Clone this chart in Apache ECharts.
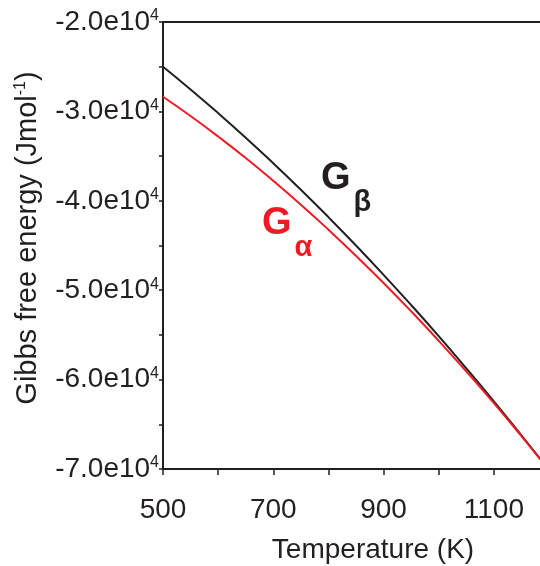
<!DOCTYPE html>
<html>
<head>
<meta charset="utf-8">
<script src="https://cdn.jsdelivr.net/npm/echarts@6/dist/echarts.min.js"></script>
<style>
html,body{margin:0;padding:0;background:#fff;}
#c{width:540px;height:566px;}
</style>
</head>
<body>
<div id="c"></div>
<script>
// Data
var temperatures = [500, 550, 600, 650, 700, 750, 800, 850, 900, 950, 1000, 1050, 1100, 1150, 1200];
var gBeta  = [-25000, -27540, -30190, -32940, -35800, -38760, -41830, -45000, -48280, -51660, -55140, -58740, -62430, -66240, -70100];
var gAlpha = [-28360, -30520, -32810, -35220, -37770, -40430, -43230, -46150, -49190, -52360, -55660, -59080, -62630, -66310, -70120];
var xTickLabels = [500, 700, 900, 1100];
var yTickLabels = [-20000, -30000, -40000, -50000, -60000, -70000];

var INK = '#231f20';
var RED = '#ed1c24';
var FONT = '"Liberation Sans", Arial, Helvetica, sans-serif';

function pairs(xs, ys) { return xs.map(function (x, i) { return [x, ys[i]]; }); }

var chart = echarts.init(document.getElementById('c'), null, { renderer: 'canvas' });
chart.setOption({
  backgroundColor: '#fff',
  animation: false,
  grid: { left: 163, top: 22, width: 386, height: 447, containLabel: false, outerBoundsMode: 'none',
    show: true, borderColor: INK, borderWidth: 2, backgroundColor: 'transparent' },
  xAxis: {
    type: 'value', min: 500, max: 1200, interval: 100,
    name: 'Temperature (K)', nameLocation: 'middle', nameGap: 67,
    nameTextStyle: { fontFamily: FONT, fontSize: 28, color: INK, padding: [0, 0, 0, 34] },
    axisLine: { show: true, onZero: false, lineStyle: { color: INK, width: 2 } },
    axisTick: { show: true, inside: false, length: 6, lineStyle: { color: INK, width: 1.5 } },
    splitLine: { show: false },
    axisLabel: {
      margin: 27, fontFamily: FONT, fontSize: 28, color: INK, hideOverlap: false,
      formatter: function (v) { return xTickLabels.indexOf(v) >= 0 ? String(v) : ''; }
    }
  },
  yAxis: {
    type: 'value', min: -70000, max: -20000, interval: 5000,
    name: 'Gibbs free energy (Jmol{s|-1})', nameLocation: 'middle', nameGap: 121, nameRotate: 90,
    nameTextStyle: { fontFamily: FONT, fontSize: 29, color: INK, padding: [0, 0, 0, 15],
      rich: { s: { fontFamily: FONT, fontSize: 16, color: INK, verticalAlign: 'top', padding: [0, 0, 12, 0] } } },
    axisLine: { show: true, onZero: false, lineStyle: { color: INK, width: 2 } },
    axisTick: { show: true, inside: false, length: 4, lineStyle: { color: INK, width: 1.5 } },
    splitLine: { show: false },
    axisLabel: {
      margin: 4, fontFamily: FONT, fontSize: 28, color: INK, hideOverlap: false,
      formatter: function (v) {
        if (yTickLabels.indexOf(v) < 0) return '';
        return '{m|' + (v / 10000).toFixed(1) + 'e10}{s|4}';
      },
      rich: {
        m: { fontFamily: FONT, fontSize: 28, color: INK },
        s: { fontFamily: FONT, fontSize: 16, color: INK, verticalAlign: 'top', padding: [0, 0, 12, 0] }
      }
    }
  },
  series: [
    { name: 'G\u03b2', type: 'line', data: pairs(temperatures, gBeta), smooth: true, showSymbol: false,
      lineStyle: { color: INK, width: 2 }, itemStyle: { color: INK }, clip: true, z: 3 },
    { name: 'G\u03b1', type: 'line', data: pairs(temperatures, gAlpha), smooth: true, showSymbol: false,
      lineStyle: { color: RED, width: 2 }, itemStyle: { color: RED }, clip: true, z: 4 }
  ],
  graphic: [
    { type: 'text', left: 321, top: 160, z: 10,
      style: { text: '{g|G}{s|\u03b2}', rich: {
        g: { fontFamily: FONT, fontSize: 38, fontWeight: 'bold', fill: INK, color: INK },
        s: { fontFamily: FONT, fontSize: 29, fontWeight: 'bold', fill: INK, color: INK, padding: [48, 0, 0, 3] } } } },
    { type: 'text', left: 262, top: 205, z: 10,
      style: { text: '{g|G}{s|\u03b1}', rich: {
        g: { fontFamily: FONT, fontSize: 38, fontWeight: 'bold', fill: RED, color: RED },
        s: { fontFamily: FONT, fontSize: 29, fontWeight: 'bold', fill: RED, color: RED, padding: [48, 0, 0, 3] } } } }
  ]
});
</script>
</body>
</html>
